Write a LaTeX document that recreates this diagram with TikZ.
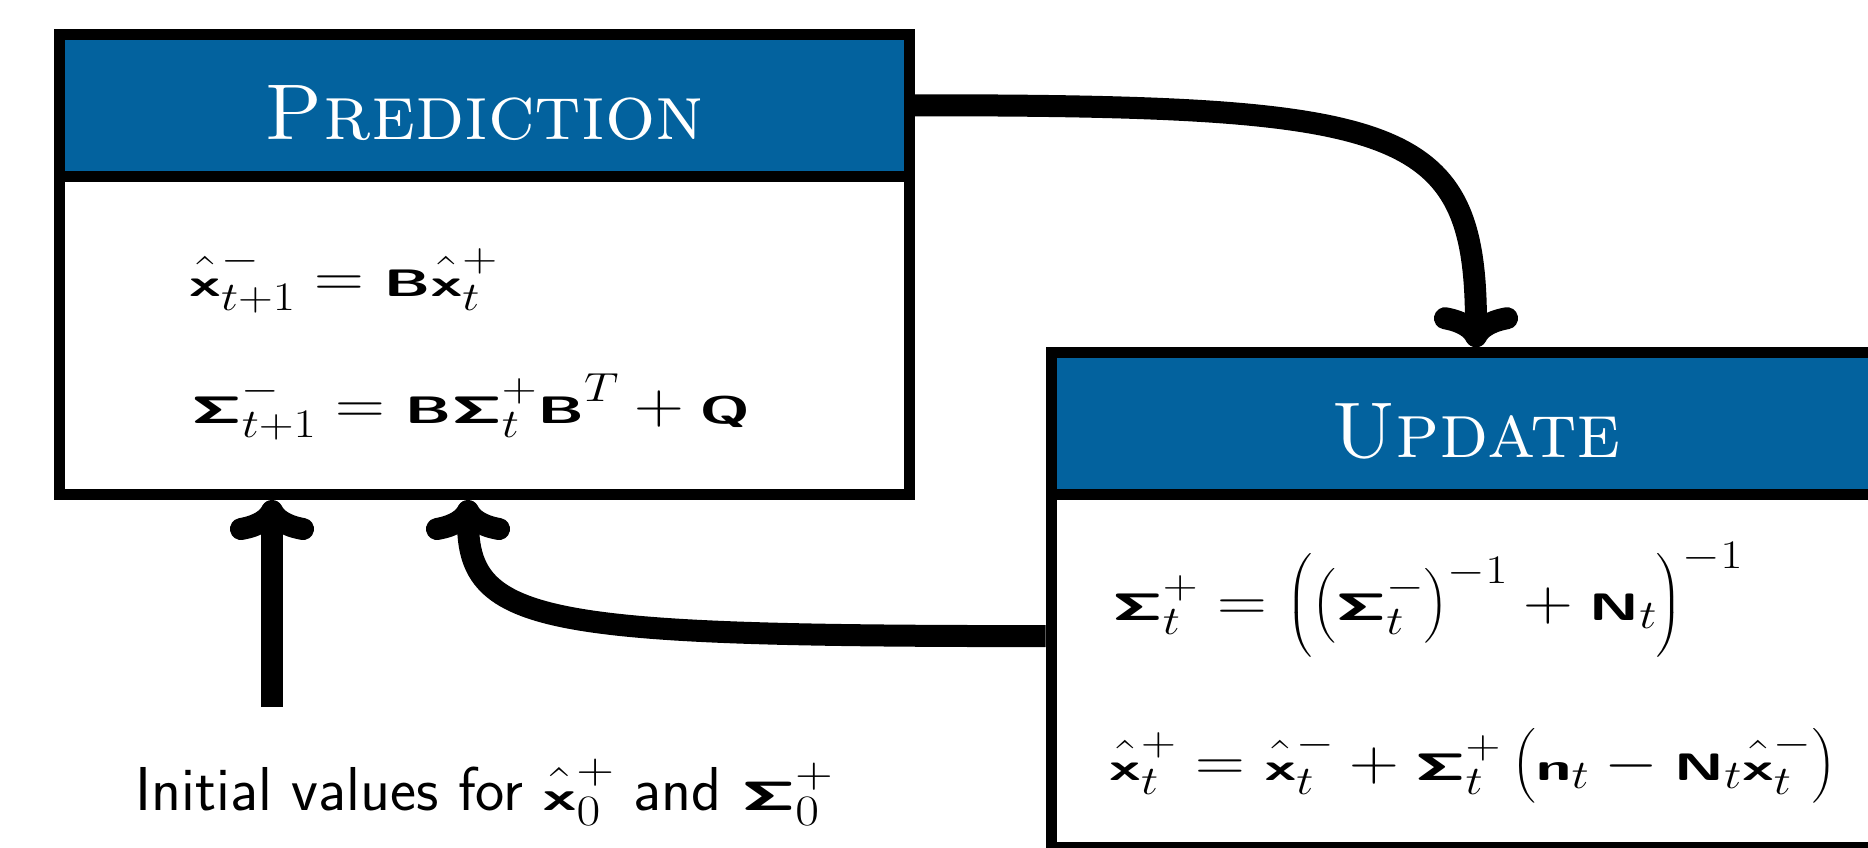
\RequirePackage{fix-cm}
\documentclass[tikz,border=0pt]{standalone}
\usepackage{amsmath,graphicx}
\usetikzlibrary{arrows.meta}

\definecolor{headblue}{RGB}{3,98,158}
% wide bold sans for vectors and matrices
\DeclareFontFamily{OT1}{smcmss}{}
\DeclareFontShape{OT1}{smcmss}{bx}{n}{<-> s*[0.66] cmssbx10}{}
\DeclareMathAlphabet{\mathvec}{OT1}{smcmss}{bx}{n}
\newcommand{\vb}[1]{\scalebox{1.4}[1]{$\mathvec{#1}$}}
\newcommand{\wideeq}[1]{\scalebox{1.19}[1]{#1}}

\begin{document}
\begin{tikzpicture}[x=1pt,y=-1pt,
  headbox/.style={draw,line width=11pt,fill=headblue,text=white,inner sep=0pt,
    minimum width=850pt,minimum height=141.5pt,text height=67.5pt,text depth=0pt,
    font=\fontsize{79}{90}\selectfont\scshape},
  bodybox/.style={draw,line width=11pt,inner sep=0pt,minimum width=850pt},
  eqn/.style={anchor=base west,inner sep=0pt,font=\fontsize{58}{70}\selectfont},
  flow/.style={line width=22pt,-{To[length=40pt,width=84pt,round]}}]
\path[use as bounding box] (0,0) rectangle (1868,847);

% prediction
\node[bodybox,minimum height=318.5pt] (predbody) at (484.5,335.25) {};
\node[headbox] (predhead) at (484.5,105.25) {Prediction};
\node[eqn] (predx) at (189,296) {\wideeq{$\hat{\vb{x}}^-_{t+1} = \vb{B}\hat{\vb{x}}^+_t$}};
\node[eqn] (predsig) at (191,423) {\wideeq{$\vb{\Sigma}^-_{t+1} = \vb{B}\vb{\Sigma}^+_t\vb{B}^T + \vb{Q}$}};

% update
\node[bodybox,minimum height=352.8pt] (upbody) at (1476,671.1) {};
\node[headbox] (uphead) at (1476,423.5) {Update};
\node[eqn] (upsig) at (1112,620) {\wideeq{$\vb{\Sigma}^+_t = \Big(\big(\vb{\Sigma}^-_t\big)^{-1} + \vb{N}_t\Big)^{-1}$}};
\node[eqn] (upx) at (1109,780) {\wideeq{$\hat{\vb{x}}^+_t = \hat{\vb{x}}^-_t + \vb{\Sigma}^+_t\,\big(\vb{n}_t - \vb{N}_t\hat{\vb{x}}^-_t\big)$}};

% initial values
\node[anchor=base,inner sep=0pt,font=\fontsize{62}{74}\selectfont\sffamily] (init) at (484.5,810)
  {Initial values for \wideeq{$\hat{\vb{x}}^+_0$} and \wideeq{$\vb{\Sigma}^+_0$}};
\coordinate (start) at (272,707);

\draw[flow] (predhead.east) .. controls +(490,0) and +(0,-222) .. (uphead.north);
\draw[flow] ([yshift=35pt]upbody.west) .. controls +(-500,0) and +(0,125) .. ([xshift=-16.5pt]predbody.south);
\draw[flow] (start) -- (start |- predbody.south);
\end{tikzpicture}
\end{document}
